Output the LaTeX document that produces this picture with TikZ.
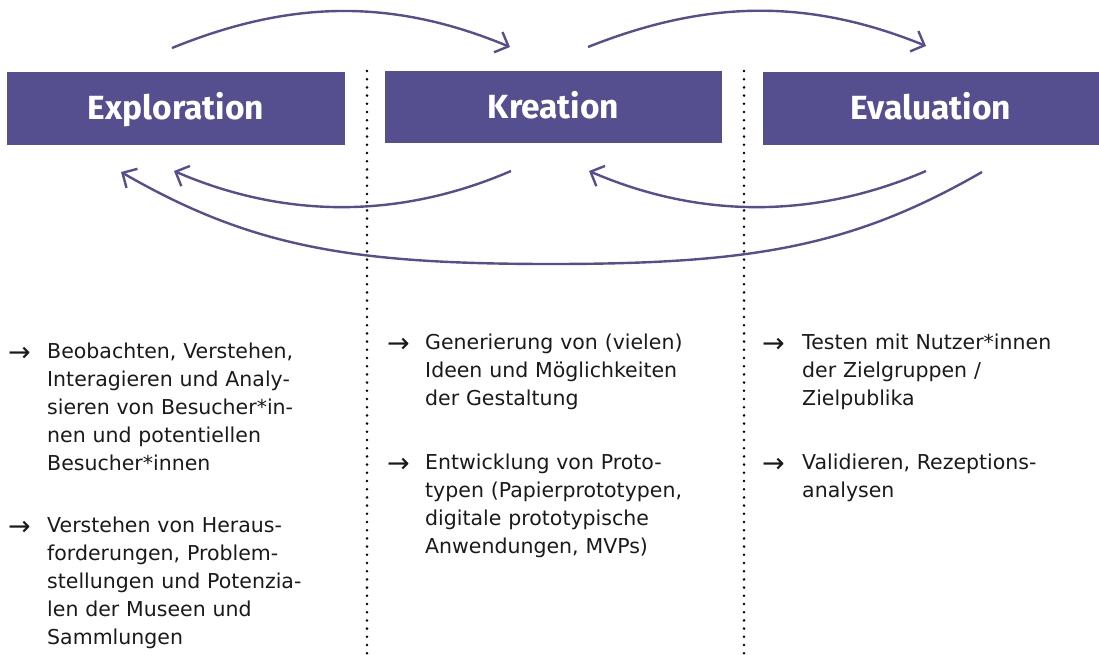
\documentclass[tikz,border=0pt]{standalone}
\usepackage{fontspec}
\setmainfont{DejaVu Sans}
\newfontfamily\headfont{Fira Sans}
\usepackage{tikz}
\usetikzlibrary{arrows.meta}
\definecolor{lila}{RGB}{86,79,143}
\definecolor{ink}{RGB}{26,26,26}

\begin{document}
\begin{tikzpicture}[x=1pt,y=-1pt,
  phase_node/.style={fill=lila,inner sep=0pt,minimum width=338pt,minimum height=73pt,text=white,text height=23pt,text depth=0pt,font=\headfont\bfseries\fontsize{33.5}{36}\selectfont},
  item_node/.style={anchor=base west,inner sep=0pt,text width=360pt,align=left,text=ink,font=\fontsize{20.5}{28}\selectfont},
  mark_node/.style={anchor=base east,inner sep=0pt,text=ink,yshift=-3.5pt,font=\fontsize{27}{28}\selectfont},
  loop_arrow/.style={draw=lila,line width=2.4pt,-{Straight Barb[length=11pt,width=22pt]}},
  sep_line/.style={line width=2.8pt,line cap=round,dash pattern=on 0pt off 8.2pt}]

  \useasboundingbox (0,0) rectangle (1099,655);

  \node[phase_node] (expl) at (176,108.5) {Exploration};
  \node[phase_node, minimum width=337pt, minimum height=72pt] (krea) at (553.5,107.5) {Kreation};
  \node[phase_node, minimum width=336pt] (eval) at (931,108.5) {Evaluation};

  \draw[sep_line] (367,71) -- (367,655);
  \draw[sep_line] (744,71) -- (744,655);

  \coordinate (t1) at (172,48);
  \coordinate (t2) at (510,47);
  \coordinate (t3) at (588,47);
  \coordinate (t4) at (926,46);
  \coordinate (b1) at (511,171);
  \coordinate (b2) at (174,171);
  \coordinate (b3) at (926,171);
  \coordinate (b4) at (589,171);
  \coordinate (l1) at (982,172);
  \coordinate (l2) at (551,264);
  \coordinate (l3) at (121,172);

  \draw[loop_arrow] (t1) .. controls (290,0) and (392,-2) .. (t2);
  \draw[loop_arrow] (t3) .. controls (706,0) and (808,-2) .. (t4);
  \draw[loop_arrow] (b1) .. controls (400,219) and (285,219) .. (b2);
  \draw[loop_arrow] (b3) .. controls (815,219) and (700,219) .. (b4);
  \draw[loop_arrow] (l1) .. controls (852,247) and (751,264) .. (l2) .. controls (351,264) and (251,247) .. (l3);

  \node[item_node] (e1) at (47,358) {Beobachten, Verstehen,\\ Interagieren und Analy-\\ sieren von Besucher*in-\\ nen und potentiellen\\ Besucher*innen};
  \node[item_node] (e2) at (47,532) {Verstehen von Heraus-\\ forderungen, Problem-\\ stellungen und Potenzia-\\ len der Museen und\\ Sammlungen};
  \node[item_node] (k1) at (425,349) {Generierung von (vielen)\\ Ideen und Möglichkeiten\\ der Gestaltung};
  \node[item_node] (k2) at (425,469) {Entwicklung von Proto-\\ typen (Papierprototypen,\\ digitale prototypische\\ Anwendungen, MVPs)};
  \node[item_node] (v1) at (802,349) {Testen mit Nutzer*innen\\ der Zielgruppen /\\ Zielpublika};
  \node[item_node] (v2) at (802,469) {Validieren, Rezeptions-\\ analysen};

  \node[mark_node] (e1m) at (31,358) {→};
  \node[mark_node] (e2m) at (31,532) {→};
  \node[mark_node] (k1m) at (410,349) {→};
  \node[mark_node] (k2m) at (410,469) {→};
  \node[mark_node] (v1m) at (785,349) {→};
  \node[mark_node] (v2m) at (785,469) {→};

\end{tikzpicture}
\end{document}
